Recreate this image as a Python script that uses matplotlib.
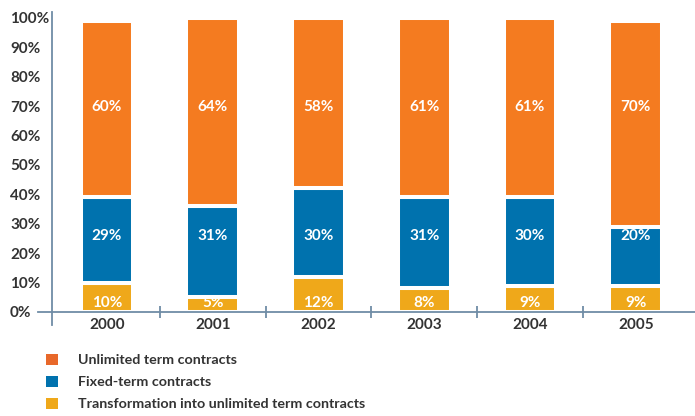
import matplotlib
matplotlib.use("Agg")
import matplotlib.pyplot as plt
from matplotlib.patches import Patch
from matplotlib.lines import Line2D
import numpy as np

years = ["2000", "2001", "2002", "2003", "2004", "2005"]
transformation = [10, 5, 12, 8, 9, 9]
fixed_term = [29, 31, 30, 31, 30, 20]
unlimited = [60, 64, 58, 61, 61, 70]
y_ticks = [0, 10, 20, 30, 40, 50, 60, 70, 80, 90, 100]
legend_labels = ["Unlimited term contracts", "Fixed-term contracts",
                 "Transformation into unlimited term contracts"]

ORANGE = "#F47B20"
BLUE = "#0072AE"
YELLOW = "#EFA81A"
LEGEND_ORANGE = "#E8682A"
AXIS = "#6F8CA6"
TEXT = "#333333"

plt.rcParams["font.family"] = ["Lato", "DejaVu Sans"]

fig = plt.figure(figsize=(6.95, 4.16), dpi=100)
W, H = 695, 416
ax_left, ax_right = 52, 695
ax_top, ax_bottom = 12.1, 325.2
ax = fig.add_axes([ax_left / W, (H - ax_bottom) / H,
                   (ax_right - ax_left) / W, (ax_bottom - ax_top) / H])

x = np.arange(len(years))
bar_w = 0.50
edge = dict(edgecolor="white", linewidth=2.9)

b_tr = ax.bar(x, transformation, bar_w, color=YELLOW, zorder=2, **edge)
bottom_fx = np.array(transformation)
b_fx = ax.bar(x, fixed_term, bar_w, bottom=bottom_fx, color=BLUE, zorder=2, **edge)
bottom_un = bottom_fx + np.array(fixed_term)
b_un = ax.bar(x, unlimited, bar_w, bottom=bottom_un, color=ORANGE, zorder=2, **edge)

# value labels sit at a fixed height inside each segment
label_font = dict(color="white", fontsize=11, fontweight="bold",
                  ha="center", va="center", zorder=4)
for i in range(len(years)):
    ax.text(x[i], 69.8, f"{unlimited[i]}%", **label_font)
    ax.text(x[i], 26.0, f"{fixed_term[i]}%", **label_font)
    ax.text(x[i], 2.9, f"{transformation[i]}%", **label_font)

ax.set_xlim(-0.52, 5.56)
ax.set_ylim(-4.5, 102)

for s in ("top", "right"):
    ax.spines[s].set_visible(False)
ax.spines["left"].set_color(AXIS)
ax.spines["left"].set_linewidth(1.3)
ax.spines["bottom"].set_position(("data", 0))
ax.spines["bottom"].set_color(AXIS)
ax.spines["bottom"].set_linewidth(1.3)
ax.spines["bottom"].set_zorder(3)

# x-axis line continues a little to the left of the y axis
ax.add_line(Line2D([-14 / (ax_right - ax_left), 0], [0, 0], color=AXIS, lw=1.3,
                   transform=ax.get_yaxis_transform(), clip_on=False))

ax.set_xticks(x[:-1] + 0.5)
ax.set_xticklabels([])
ax.tick_params(axis="x", which="major", direction="inout", length=8,
               width=1.3, color=AXIS)
ax.set_xticks(x, minor=True)
ax.set_xticklabels(years, minor=True)
ax.tick_params(axis="x", which="minor", length=0, pad=4.0,
               labelsize=11, labelcolor=TEXT)
for t in ax.get_xticklabels(minor=True):
    t.set_fontweight("bold")

ax.set_yticks(y_ticks)
ax.set_yticklabels([f"{v}%" for v in y_ticks])
ax.tick_params(axis="y", length=0, pad=30.2, labelsize=11, labelcolor=TEXT)
for t in ax.get_yticklabels():
    t.set_horizontalalignment("left")
    t.set_fontweight("bold")

handles = [Patch(facecolor=LEGEND_ORANGE, edgecolor="none"),
           Patch(facecolor=BLUE, edgecolor="none"),
           Patch(facecolor=YELLOW, edgecolor="none")]
leg = fig.legend(handles, legend_labels, loc="upper left",
                 bbox_to_anchor=(46 / W, (H - 354) / H), frameon=False,
                 fontsize=10.3, handlelength=0.84, handleheight=0.77,
                 handletextpad=1.38, labelspacing=0.68, borderpad=0,
                 borderaxespad=0)
for t in leg.get_texts():
    t.set_color(TEXT)
    t.set_fontweight("bold")

fig.savefig("out.png", dpi=100)
